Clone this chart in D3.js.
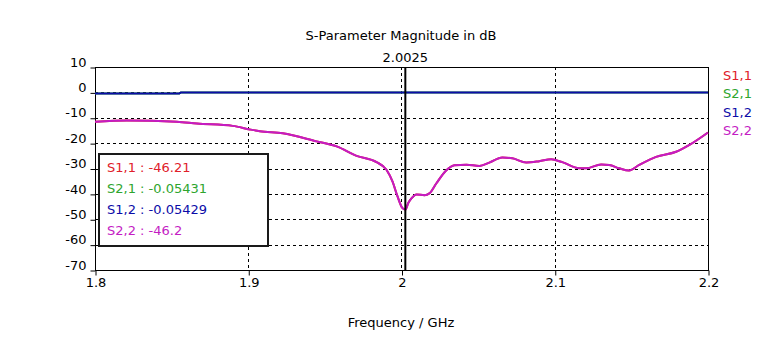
<!DOCTYPE html>
<html><head><meta charset="utf-8">
<script src="https://cdn.jsdelivr.net/npm/d3@7"></script>
<style>body{margin:0;background:#fff}svg{display:block}text{font-family:"DejaVu Sans",sans-serif;}</style>
</head><body><div id="chart"></div>
<script>
const xTicks=[1.8,1.9,2.0,2.1,2.2];
const xTickLabels=["1.8","1.9","2","2.1","2.2"];
const yTicks=[10,0,-10,-20,-30,-40,-50,-60,-70];
const seriesNames=["S1,1","S2,1","S1,2","S2,2"];
const seriesColors=["#e0202a","#2ea52e","#0c0ca8","#c41cc4"];
const markerFreq=2.0025;
const markerValues=["-46.21","-0.05431","-0.05429","-46.2"];
const s22=[[1.8,-11.6],[1.8208,-11.1],[1.8534,-11.6],[1.8665,-12.3],[1.8899,-13.2],[1.901,-14.6],[1.9075,-15.3],[1.9225,-16.1],[1.9446,-19.3],[1.9577,-21.3],[1.9707,-25.0],[1.9837,-27.5],[1.9902,-30.5],[1.9941,-35.1],[1.9974,-41.0],[2.0005,-45.5],[2.0025,-46.2],[2.0045,-43.5],[2.0065,-41.8],[2.0098,-40.2],[2.015,-40.5],[2.0182,-39.8],[2.0228,-35.8],[2.0293,-30.7],[2.0345,-28.7],[2.0424,-28.5],[2.0508,-29.0],[2.0573,-27.7],[2.0658,-25.7],[2.0723,-26.0],[2.0814,-27.6],[2.0899,-27.1],[2.0977,-26.4],[2.1049,-27.5],[2.116,-29.9],[2.1205,-29.9],[2.1303,-28.4],[2.1355,-28.6],[2.142,-29.9],[2.1485,-30.8],[2.1551,-28.6],[2.1661,-25.4],[2.1792,-23.4],[2.1876,-20.8],[2.2,-15.8]];
const s11=s22.map(d=>[d[0],d[1]]);
const s12=[[1.8,-0.45],[1.855,-0.45],[1.856,-0.054],[2.2,-0.054]];
const s21=s12.map(d=>[d[0],d[1]]);

const W=763,H=339;
const L=95,R=708,T=67,B=270;
const svg=d3.select("#chart").append("svg").attr("width",W).attr("height",H);
const x=d3.scaleLinear().domain([1.8,2.2]).range([L,R]);
const y=d3.scaleLinear().domain([-70,10]).range([B,T]);

// grid
const g=svg.append("g");
g.selectAll(".gy").data(yTicks.filter(t=>t>-70&&t<10)).join("line")
 .attr("x1",L).attr("x2",R).attr("y1",d=>Math.round(y(d))+0.5).attr("y2",d=>Math.round(y(d))+0.5)
 .attr("stroke","#000").attr("stroke-dasharray","3,3").attr("stroke-width",1);
g.selectAll(".gx").data(xTicks.filter(t=>t>1.8&&t<2.2)).join("line")
 .attr("y1",T).attr("y2",B).attr("x1",d=>Math.round(x(d))+0.5).attr("x2",d=>Math.round(x(d))+0.5)
 .attr("stroke","#000").attr("stroke-dasharray","3,3").attr("stroke-width",1);

// axes
const yAxis=d3.axisLeft(y).tickValues(yTicks).tickSize(5).tickFormat(d=>d);
const ya=svg.append("g").attr("transform",`translate(${L+0.5},0.5)`).call(yAxis);
ya.select(".domain").remove();
ya.selectAll("text").attr("font-size",13).attr("dy","-0.1em").attr("x",-9).attr("fill","#000").style("font-family","DejaVu Sans");
const xAxis=d3.axisBottom(x).tickValues(xTicks).tickSize(5).tickFormat((d,i)=>xTickLabels[i]);
const xa=svg.append("g").attr("transform",`translate(0.5,${B+0.5})`).call(xAxis);
xa.select(".domain").remove();
xa.selectAll("text").attr("font-size",13).attr("y",7).attr("fill","#000").style("font-family","DejaVu Sans");

// frame
svg.append("rect").attr("x",L+0.5).attr("y",T+0.5).attr("width",R-L).attr("height",B-T)
 .attr("fill","none").attr("stroke","#000").attr("stroke-width",1);

// lines
const line=d3.line().x(d=>x(d[0])).y(d=>y(d[1])).curve(d3.curveMonotoneX);
const step=d3.line().x(d=>x(d[0])).y(d=>y(d[1]));
svg.append("clipPath").attr("id","c").append("rect").attr("x",L).attr("y",T).attr("width",R-L+1).attr("height",B-T);
const pl=svg.append("g").attr("clip-path","url(#c)");
pl.append("path").datum(s11).attr("d",line).attr("fill","none").attr("stroke",seriesColors[0]).attr("stroke-width",2);
pl.append("path").datum(s21).attr("d",step).attr("fill","none").attr("stroke",seriesColors[1]).attr("stroke-width",2);
pl.append("path").datum(s12).attr("d",step).attr("fill","none").attr("stroke",seriesColors[2]).attr("stroke-width",2);
pl.append("path").datum(s22).attr("d",line).attr("fill","none").attr("stroke",seriesColors[3]).attr("stroke-width",2);

// marker
svg.append("line").attr("x1",x(markerFreq)).attr("x2",x(markerFreq)).attr("y1",T).attr("y2",B)
 .attr("stroke","#000").attr("stroke-width",2);
svg.append("text").attr("x",x(markerFreq)).attr("y",62).attr("text-anchor","middle").attr("font-size",13).text(String(markerFreq));

// title & axis label
svg.append("text").attr("x",401).attr("y",40).attr("text-anchor","middle").attr("font-size",13).text("S-Parameter Magnitude in dB");
svg.append("text").attr("x",401).attr("y",327).attr("text-anchor","middle").attr("font-size",13).text("Frequency / GHz");

// right legend
seriesNames.forEach((n,i)=>{
 svg.append("text").attr("x",723).attr("y",80+i*18.4).attr("font-size",13).attr("fill",seriesColors[i]).text(n);
});

// inset box
svg.append("rect").attr("x",99).attr("y",154).attr("width",169).attr("height",92).attr("fill","#fff").attr("stroke","#1a1a1a").attr("stroke-width",2);
seriesNames.forEach((n,i)=>{
 svg.append("text").attr("x",107).attr("y",171.5+i*21.3).attr("font-size",13).attr("fill",seriesColors[i]).text(n+" : "+markerValues[i]);
});
</script></body></html>
